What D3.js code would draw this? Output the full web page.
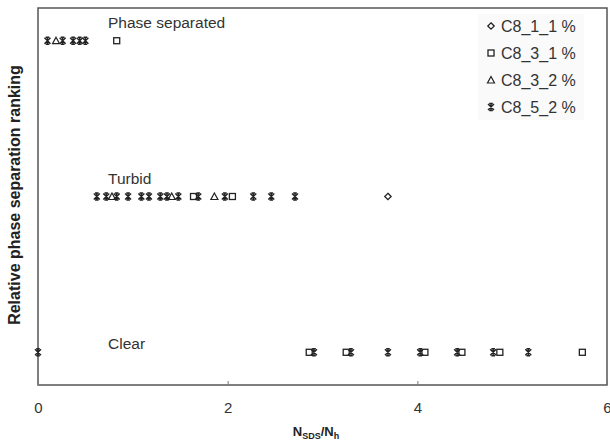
<!DOCTYPE html>
<html>
<head>
<meta charset="utf-8">
<script src="https://cdn.jsdelivr.net/npm/d3@7"></script>
<style>
  body { margin: 0; background: #fff; }
  text { font-family: "Liberation Sans", Arial, sans-serif; }
</style>
</head>
<body>
<svg id="chart" width="610" height="440"></svg>
<script>
// rank: 1 = clear, 2 = turbid, 3 = phase separated
const seriesNames = ["C8_1_1 %", "C8_3_1 %", "C8_3_2 %", "C8_5_2 %"];
const seriesShapes = ["diamond", "square", "triangle", "star"];

const c811_x = [3.69];
const c811_rank = [2];

const c831_x = [0.83, 1.64, 2.05, 2.86, 3.25, 4.08, 4.47, 4.87, 5.74];
const c831_rank = [3, 2, 2, 1, 1, 1, 1, 1, 1];

const c832_x = [0.19, 0.78, 1.41, 1.86];
const c832_rank = [3, 2, 2, 2];

const c852_x = [0.1, 0.26, 0.37, 0.44, 0.5,
  0.62, 0.72, 0.83, 0.95, 1.09, 1.17, 1.29, 1.36, 1.48, 1.69, 1.97, 2.27, 2.46, 2.71,
  0, 2.91, 3.3, 3.69, 4.03, 4.42, 4.8, 5.17];
const c852_rank = [3, 3, 3, 3, 3,
  2, 2, 2, 2, 2, 2, 2, 2, 2, 2, 2, 2, 2, 2,
  1, 1, 1, 1, 1, 1, 1, 1];

const rankLabels = ["Clear", "Turbid", "Phase separated"];
const rankValues = [1, 2, 3];
const xTicks = [0, 2, 4, 6];

const seriesX = [c811_x, c831_x, c832_x, c852_x];
const seriesRank = [c811_rank, c831_rank, c832_rank, c852_rank];

const svg = d3.select("#chart");
const margin = { top: 8, right: 3, bottom: 55, left: 38 };
const width = 610, height = 440;

const x = d3.scaleLinear()
  .domain([0, 6])
  .range([margin.left, width - margin.right]);

const y = d3.scaleLinear()
  .domain([0.79, 3.21])
  .range([height - margin.bottom, margin.top]);

// frame
svg.append("rect")
  .attr("x", x(0))
  .attr("y", y(3.21))
  .attr("width", x(6) - x(0))
  .attr("height", y(0.79) - y(3.21))
  .attr("fill", "none")
  .attr("stroke", "#555")
  .attr("stroke-width", 1.5);

// x axis
const xAxis = svg.append("g")
  .attr("transform", `translate(0, ${y(0.79)})`)
  .call(d3.axisBottom(x).tickValues(xTicks).tickSize(-4).tickPadding(17).tickFormat(d3.format("d")));
xAxis.select(".domain").remove();
xAxis.selectAll("line").attr("stroke", "#777");
xAxis.selectAll("text")
  .attr("fill", "#333")
  .style("font-size", "15px")
  .style("font-family", "Liberation Sans, Arial, sans-serif");

// axis titles
const xt = svg.append("text")
  .attr("x", 316)
  .attr("y", 436)
  .attr("text-anchor", "middle")
  .attr("fill", "#222")
  .style("font-size", "13px")
  .style("font-weight", "bold");
xt.append("tspan").text("N");
xt.append("tspan").attr("dy", 3).style("font-size", "9px").text("SDS");
xt.append("tspan").attr("dy", -3).text("/N");
xt.append("tspan").attr("dy", 3).style("font-size", "9px").text("h");

svg.append("text")
  .attr("transform", "translate(20, 195) rotate(-90)")
  .attr("text-anchor", "middle")
  .attr("fill", "#222")
  .style("font-size", "16px")
  .style("font-weight", "bold")
  .text("Relative phase separation ranking");

// rank labels
svg.selectAll(".rank-label")
  .data(rankValues)
  .enter().append("text")
  .attr("class", "rank-label")
  .attr("x", 108)
  .attr("y", d => y(d) - (d === 1 ? 3 : 13))
  .attr("fill", "#333")
  .style("font-size", "15.5px")
  .text((d, i) => rankLabels[i]);

// marker shapes
function marker(sel, shape) {
  const c = "#222";
  if (shape === "star") {
    sel.append("path")
      .attr("d", "M-3,-3L3,3M3,-3L-3,3M0,-3.5L0,3.5M-1.8,-3.5L1.8,-3.5M-1.8,3.5L1.8,3.5")
      .attr("fill", "none").attr("stroke", c).attr("stroke-width", 1.4);
  } else if (shape === "square") {
    sel.append("rect")
      .attr("x", -3).attr("y", -3).attr("width", 6).attr("height", 6)
      .attr("fill", "#fff").attr("stroke", c).attr("stroke-width", 1.3);
  } else if (shape === "triangle") {
    sel.append("path")
      .attr("d", "M0,-3.5L3.5,3L-3.5,3Z")
      .attr("fill", "#fff").attr("stroke", c).attr("stroke-width", 1.2);
  } else {
    sel.append("path")
      .attr("d", "M0,-3.2L3.2,0L0,3.2L-3.2,0Z")
      .attr("fill", "#fff").attr("stroke", c).attr("stroke-width", 1.3);
  }
}

// points
seriesX.forEach((xs, s) => {
  const pts = xs.map((v, i) => ({ x: v, r: seriesRank[s][i] }));
  svg.append("g").selectAll("g")
    .data(pts)
    .enter().append("g")
    .attr("transform", d => `translate(${x(d.x)}, ${y(d.r)})`)
    .each(function () { marker(d3.select(this), seriesShapes[s]); });
});

// legend
const legend = svg.append("g").attr("transform", "translate(478, 14)");
legend.append("rect")
  .attr("width", 106).attr("height", 106)
  .attr("fill", "#fafafa");
seriesNames.forEach((name, i) => {
  const row = legend.append("g").attr("transform", `translate(13, ${12 + i * 27})`);
  marker(row, seriesShapes[i]);
  row.append("text")
    .attr("x", 10)
    .attr("y", 6)
    .attr("fill", "#333")
    .style("font-size", "16px")
    .text(name);
});
</script>
</body>
</html>
